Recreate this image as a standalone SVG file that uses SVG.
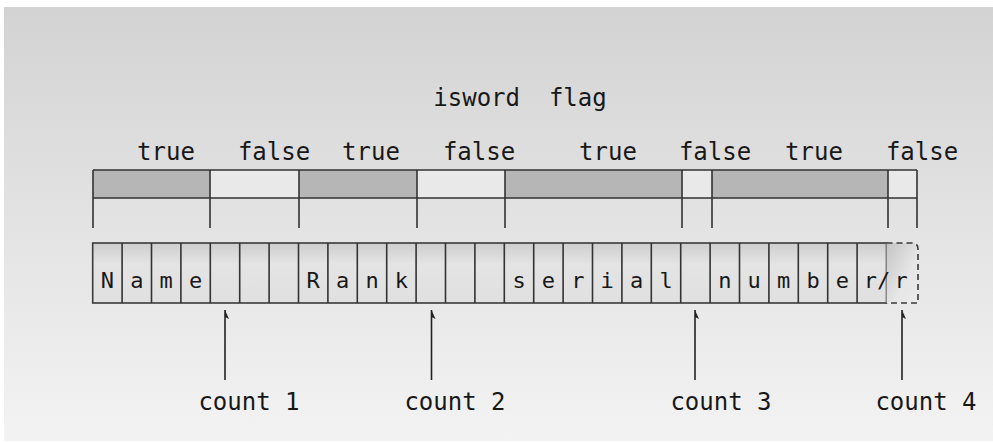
<svg xmlns="http://www.w3.org/2000/svg" width="993" height="443" viewBox="0 0 993 443">
<defs>
<linearGradient id="bg" x1="0" y1="0" x2="0" y2="1">
<stop offset="0" stop-color="#d3d3d3"/>
<stop offset="1" stop-color="#f3f3f3"/>
</linearGradient>
<linearGradient id="cellg" x1="0" y1="0" x2="0" y2="1">
<stop offset="0" stop-color="#cdcdcd"/>
<stop offset="0.35" stop-color="#e4e4e4"/>
<stop offset="1" stop-color="#e0e0e0"/>
</linearGradient>
<linearGradient id="lastg" x1="0" y1="0" x2="1" y2="1">
<stop offset="0" stop-color="#c4c4c4"/>
<stop offset="0.6" stop-color="#e6e6e6"/>
<stop offset="1" stop-color="#ebebeb"/>
</linearGradient>
<marker id="half" markerWidth="12" markerHeight="12" refX="0" refY="0" orient="auto" markerUnits="userSpaceOnUse" viewBox="-10 -6 12 12" overflow="visible">
<path d="M0,0 L-9,4 L-7,0 Z" fill="#222"/>
</marker>
<style>
.t{font-family:"DejaVu Sans Mono","Liberation Mono",monospace;font-size:24px;fill:#181818;text-anchor:middle;white-space:pre}
.c{font-family:"DejaVu Sans Mono","Liberation Mono",monospace;font-size:22px;fill:#181818;text-anchor:middle}
.ln{stroke:#333;stroke-width:1.6;fill:none}
.on{fill:#b6b6b6}
.off{fill:#e9e9e9}
.cell{fill:url(#cellg);stroke:#3a3a3a;stroke-width:1.6}
.arr{stroke:#222;stroke-width:1.6;fill:none;marker-end:url(#half)}
</style>
</defs>
<rect x="0" y="0" width="993" height="443" fill="#ffffff"/>
<rect x="4" y="7" width="989" height="434" fill="url(#bg)"/>

<g id="title">
<text class="t" x="520" y="106" xml:space="preserve">isword  flag</text>
</g>

<g id="flag-labels">
<text class="t" x="166" y="160">true</text>
<text class="t" x="274" y="160">false</text>
<text class="t" x="371" y="160">true</text>
<text class="t" x="479" y="160">false</text>
<text class="t" x="608" y="160">true</text>
<text class="t" x="715" y="160">false</text>
<text class="t" x="814" y="160">true</text>
<text class="t" x="922" y="160">false</text>
</g>

<g id="flag-bar">
<rect class="on" x="93" y="170" width="117" height="28"/>
<rect class="off" x="210" y="170" width="89" height="28"/>
<rect class="on" x="299" y="170" width="118" height="28"/>
<rect class="off" x="417" y="170" width="88" height="28"/>
<rect class="on" x="505" y="170" width="177" height="28"/>
<rect class="off" x="682" y="170" width="30" height="28"/>
<rect class="on" x="712" y="170" width="176" height="28"/>
<rect class="off" x="888" y="170" width="29" height="28"/>
<path class="ln" d="M93,170 H917 M93,198 H917 M93,170 V228 M210,170 V228 M299,170 V228 M417,170 V228 M505,170 V228 M682,170 V228 M712,170 V228 M888,170 V228 M917,170 V228"/>
</g>

<g id="char-array">
<rect class="cell" x="92.7" y="243" width="793.8" height="60"/>
<path class="ln" d="M122.1,243 V303 M151.5,243 V303 M180.9,243 V303 M210.3,243 V303 M239.7,243 V303 M269.1,243 V303 M298.5,243 V303 M327.9,243 V303 M357.3,243 V303 M386.7,243 V303 M416.1,243 V303 M445.5,243 V303 M474.9,243 V303 M504.3,243 V303 M533.7,243 V303 M563.1,243 V303 M592.5,243 V303 M621.9,243 V303 M651.3,243 V303 M680.7,243 V303 M710.1,243 V303 M739.5,243 V303 M768.9,243 V303 M798.3,243 V303 M827.7,243 V303 M857.1,243 V303"/>
<path d="M886.5,243 H912 Q918,243 918,249 V303 H886.5 Z" fill="url(#lastg)"/>
<path d="M886.5,243 H912 Q918,243 918,249 V303 H886.5" fill="none" stroke="#3a3a3a" stroke-width="1.6" stroke-dasharray="6,4"/>
<text class="c" x="107.4" y="288">N</text>
<text class="c" x="136.8" y="288">a</text>
<text class="c" x="166.2" y="288">m</text>
<text class="c" x="195.6" y="288">e</text>
<text class="c" x="313.2" y="288">R</text>
<text class="c" x="342.6" y="288">a</text>
<text class="c" x="372" y="288">n</text>
<text class="c" x="401.4" y="288">k</text>
<text class="c" x="519" y="288">s</text>
<text class="c" x="548.4" y="288">e</text>
<text class="c" x="577.8" y="288">r</text>
<text class="c" x="607.2" y="288">i</text>
<text class="c" x="636.6" y="288">a</text>
<text class="c" x="666" y="288">l</text>
<text class="c" x="724.8" y="288">n</text>
<text class="c" x="754.2" y="288">u</text>
<text class="c" x="783.6" y="288">m</text>
<text class="c" x="813" y="288">b</text>
<text class="c" x="842.4" y="288">e</text>
<text class="c" x="877" y="288">r/</text>
<text class="c" x="901" y="288">r</text>
</g>

<g id="connectors">
<line class="arr" x1="225" y1="380" x2="225" y2="310"/>
<line class="arr" x1="431.5" y1="380" x2="431.5" y2="310"/>
<line class="arr" x1="695" y1="380" x2="695" y2="310"/>
<line class="arr" x1="902" y1="380" x2="902" y2="310"/>
</g>

<g id="count1"><text class="t" x="249" y="410">count 1</text></g>
<g id="count2"><text class="t" x="455" y="410">count 2</text></g>
<g id="count3"><text class="t" x="721" y="410">count 3</text></g>
<g id="count4"><text class="t" x="926" y="410">count 4</text></g>
</svg>
